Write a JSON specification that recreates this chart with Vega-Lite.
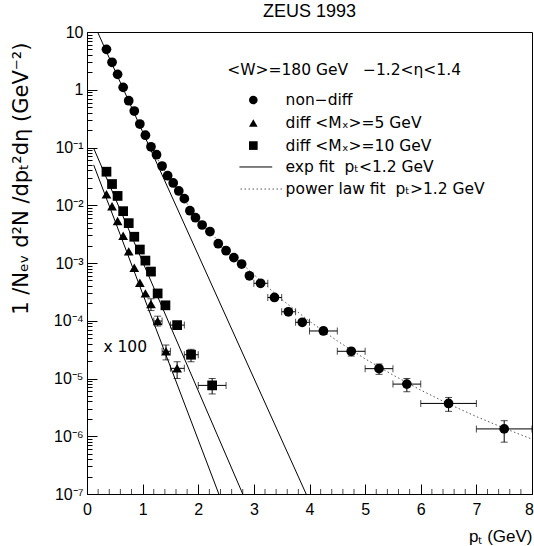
{
  "$schema": "https://vega.github.io/schema/vega-lite/v6.json",
  "width": 445,
  "height": 462,
  "autosize": "none",
  "padding": {"left": 87, "top": 32, "right": 2, "bottom": 52},
  "config": {
    "view": {"stroke": "black", "strokeWidth": 1},
    "font": "Liberation Sans",
    "text": {"font": "Liberation Sans", "color": "black"}
  },
  "title": {"text": "ZEUS 1993", "fontSize": 18, "fontWeight": "normal", "font": "Liberation Sans", "color": "black", "anchor": "middle", "offset": 3},
  "datasets": {
    "pts": [
      {"s": "nd", "x": 0.35, "y": 5.01},
      {"s": "nd", "x": 0.45, "y": 2.99},
      {"s": "nd", "x": 0.55, "y": 1.85},
      {"s": "nd", "x": 0.65, "y": 1.10},
      {"s": "nd", "x": 0.75, "y": 0.646},
      {"s": "nd", "x": 0.85, "y": 0.428},
      {"s": "nd", "x": 0.95, "y": 0.255},
      {"s": "nd", "x": 1.05, "y": 0.163},
      {"s": "nd", "x": 1.15, "y": 0.103},
      {"s": "nd", "x": 1.25, "y": 0.075},
      {"s": "nd", "x": 1.35, "y": 0.0478},
      {"s": "nd", "x": 1.45, "y": 0.0325},
      {"s": "nd", "x": 1.55, "y": 0.0243},
      {"s": "nd", "x": 1.65, "y": 0.0177},
      {"s": "nd", "x": 1.75, "y": 0.0130},
      {"s": "nd", "x": 1.85, "y": 0.00805},
      {"s": "nd", "x": 1.95, "y": 0.00608},
      {"s": "nd", "x": 2.07, "y": 0.00455},
      {"s": "nd", "x": 2.21, "y": 0.00351},
      {"s": "nd", "x": 2.36, "y": 0.00216},
      {"s": "nd", "x": 2.5, "y": 0.00163},
      {"s": "nd", "x": 2.64, "y": 0.00124},
      {"s": "nd", "x": 2.78, "y": 0.00096},
      {"s": "nd", "x": 2.92, "y": 0.00060},
      {"s": "nd", "x": 3.12, "y": 0.000445, "xlo": 3.0, "xhi": 3.25},
      {"s": "nd", "x": 3.37, "y": 0.000253, "xlo": 3.25, "xhi": 3.5},
      {"s": "nd", "x": 3.62, "y": 0.000143, "xlo": 3.5, "xhi": 3.75},
      {"s": "nd", "x": 3.87, "y": 0.000094, "xlo": 3.75, "xhi": 4.0},
      {"s": "nd", "x": 4.25, "y": 0.0000665, "xlo": 4.0, "xhi": 4.5, "ylo": 0.000058, "yhi": 0.000076},
      {"s": "nd", "x": 4.75, "y": 0.0000296, "xlo": 4.5, "xhi": 5.0, "ylo": 0.0000245, "yhi": 0.000033},
      {"s": "nd", "x": 5.25, "y": 0.0000148, "xlo": 5.0, "xhi": 5.5, "ylo": 0.0000118, "yhi": 0.0000178},
      {"s": "nd", "x": 5.75, "y": 0.0000080, "xlo": 5.5, "xhi": 6.0, "ylo": 0.0000059, "yhi": 0.0000100},
      {"s": "nd", "x": 6.5, "y": 0.0000037, "xlo": 6.0, "xhi": 7.0, "ylo": 0.0000027, "yhi": 0.0000047},
      {"s": "nd", "x": 7.5, "y": 0.00000134, "xlo": 7.0, "xhi": 8.0, "ylo": 0.00000079, "yhi": 0.00000186},
      {"s": "d5", "x": 0.35, "y": 0.0155},
      {"s": "d5", "x": 0.45, "y": 0.0096},
      {"s": "d5", "x": 0.55, "y": 0.00533},
      {"s": "d5", "x": 0.65, "y": 0.00297},
      {"s": "d5", "x": 0.75, "y": 0.00159},
      {"s": "d5", "x": 0.85, "y": 0.00083},
      {"s": "d5", "x": 0.95, "y": 0.000456},
      {"s": "d5", "x": 1.05, "y": 0.000298},
      {"s": "d5", "x": 1.15, "y": 0.000195, "ylo": 0.00015, "yhi": 0.00024},
      {"s": "d5", "x": 1.27, "y": 0.000099, "xlo": 1.2, "xhi": 1.35, "ylo": 0.000081, "yhi": 0.00012},
      {"s": "d5", "x": 1.42, "y": 0.0000296, "xlo": 1.35, "xhi": 1.5, "ylo": 0.000021, "yhi": 0.000038},
      {"s": "d5", "x": 1.62, "y": 0.000015, "xlo": 1.5, "xhi": 1.75, "ylo": 0.00001, "yhi": 0.0000195},
      {"s": "d10", "x": 0.35, "y": 0.0381},
      {"s": "d10", "x": 0.45, "y": 0.0233},
      {"s": "d10", "x": 0.55, "y": 0.0145},
      {"s": "d10", "x": 0.65, "y": 0.0079},
      {"s": "d10", "x": 0.75, "y": 0.0049},
      {"s": "d10", "x": 0.85, "y": 0.00285},
      {"s": "d10", "x": 0.95, "y": 0.00171},
      {"s": "d10", "x": 1.05, "y": 0.0011},
      {"s": "d10", "x": 1.15, "y": 0.00071},
      {"s": "d10", "x": 1.27, "y": 0.000297},
      {"s": "d10", "x": 1.41, "y": 0.000185},
      {"s": "d10", "x": 1.62, "y": 0.000084, "xlo": 1.5, "xhi": 1.75},
      {"s": "d10", "x": 1.87, "y": 0.0000258, "xlo": 1.75, "xhi": 2.0, "ylo": 0.0000195, "yhi": 0.000032},
      {"s": "d10", "x": 2.25, "y": 0.0000076, "xlo": 2.0, "xhi": 2.5, "ylo": 0.0000054, "yhi": 0.00001}
    ],
    "fits": [
      {"f": "nd_exp", "x": 0.19, "y": 10},
      {"f": "nd_exp", "x": 3.94, "y": 1e-7},
      {"f": "d10_exp", "x": 0.12, "y": 0.097},
      {"f": "d10_exp", "x": 2.8, "y": 1e-7},
      {"f": "d5_exp", "x": 0.12, "y": 0.05},
      {"f": "d5_exp", "x": 2.37, "y": 1e-7}
    ],
    "pow": [
      {"x": 1.2, "y": 0.0794},
      {"x": 1.5, "y": 0.0275},
      {"x": 2.0, "y": 0.00562},
      {"x": 2.5, "y": 0.00174},
      {"x": 3.0, "y": 0.00063},
      {"x": 3.5, "y": 0.000234},
      {"x": 4.0, "y": 0.000098},
      {"x": 4.5, "y": 0.0000447},
      {"x": 5.0, "y": 0.0000219},
      {"x": 5.5, "y": 0.0000115},
      {"x": 6.0, "y": 0.0000063},
      {"x": 6.5, "y": 0.00000363},
      {"x": 7.0, "y": 0.00000219},
      {"x": 7.5, "y": 0.00000138},
      {"x": 8.0, "y": 0.00000089}
    ],
    "xminor": [
      {"x": 0.2}, {"x": 0.4}, {"x": 0.6}, {"x": 0.8},
      {"x": 1.2}, {"x": 1.4}, {"x": 1.6}, {"x": 1.8},
      {"x": 2.2}, {"x": 2.4}, {"x": 2.6}, {"x": 2.8},
      {"x": 3.2}, {"x": 3.4}, {"x": 3.6}, {"x": 3.8},
      {"x": 4.2}, {"x": 4.4}, {"x": 4.6}, {"x": 4.8},
      {"x": 5.2}, {"x": 5.4}, {"x": 5.6}, {"x": 5.8},
      {"x": 6.2}, {"x": 6.4}, {"x": 6.6}, {"x": 6.8},
      {"x": 7.2}, {"x": 7.4}, {"x": 7.6}, {"x": 7.8}
    ],
    "legsym": [
      {"s": "nd", "x": 2.99, "y": 0.665},
      {"s": "d5", "x": 2.99, "y": 0.265},
      {"s": "d10", "x": 2.99, "y": 0.108}
    ],
    "leglines": [
      {"f": "solid", "x": 2.74, "x2": 3.33, "y": 0.046},
      {"f": "dot", "x": 2.76, "x2": 3.51, "y": 0.0191}
    ],
    "legtext": [
      {"x": 3.57, "y": 0.665, "t": "non−diff"},
      {"x": 3.57, "y": 0.265, "t": "diff <Mₓ>=5 GeV"},
      {"x": 3.57, "y": 0.108, "t": "diff <Mₓ>=10 GeV"},
      {"x": 3.57, "y": 0.046, "t": "exp fit\u00a0\u00a0pₜ<1.2 GeV"},
      {"x": 3.57, "y": 0.0191, "t": "power law fit\u00a0\u00a0pₜ>1.2 GeV"},
      {"x": 2.52, "y": 2.2, "t": "<W>=180 GeV\u00a0\u00a0\u00a0−1.2<η<1.4"},
      {"x": 0.295, "y": 0.000035, "t": "x 100"}
    ]
  },
  "layer": [
    {
      "data": {"name": "fits"},
      "mark": {"type": "line", "color": "black", "strokeWidth": 1, "clip": true},
      "encoding": {
        "x": {
          "field": "x", "type": "quantitative",
          "scale": {"domain": [0, 8], "nice": false, "zero": false},
          "axis": {
            "values": [0, 1, 2, 3, 4, 5, 6, 7, 8],
            "tickSize": -10,
            "format": "d",
            "labelFlush": false,
            "labelOverlap": false,
            "labelOffset": {"condition": {"test": "datum.value == 8", "value": -3}, "value": 0},
            "labelFontSize": 16,
            "labelColor": "black",
            "labelPadding": 17,
            "domainColor": "black",
            "tickColor": "black",
            "grid": false,
            "title": "pₜ (GeV)",
            "titleFontSize": 17,
            "titleFontWeight": "normal",
            "titleColor": "black",
            "titleAnchor": "end",
            "titlePadding": 11
          }
        },
        "y": {
          "field": "y", "type": "quantitative",
          "scale": {"type": "log", "domain": [1e-7, 10], "nice": false},
          "axis": {
            "values": [1e-7,2e-7,3e-7,4e-7,5e-7,6e-7,7e-7,8e-7,9e-7,1e-6,2e-6,3e-6,4e-6,5e-6,6e-6,7e-6,8e-6,9e-6,1e-5,2e-5,3e-5,4e-5,5e-5,6e-5,7e-5,8e-5,9e-5,1e-4,2e-4,3e-4,4e-4,5e-4,6e-4,7e-4,8e-4,9e-4,0.001,0.002,0.003,0.004,0.005,0.006,0.007,0.008,0.009,0.01,0.02,0.03,0.04,0.05,0.06,0.07,0.08,0.09,0.1,0.2,0.3,0.4,0.5,0.6,0.7,0.8,0.9,1,2,3,4,5,6,7,8,9,10],
            "tickSize": {"condition": {"test": "abs(log(datum.value)/LN10 - round(log(datum.value)/LN10)) < 0.01", "value": -10}, "value": -5},
            "labelExpr": "abs(log(datum.value)/LN10 - round(log(datum.value)/LN10)) > 0.01 ? '' : datum.value > 5 ? '10' : datum.value > 0.5 ? '1' : '10' + ['', '⁻¹', '⁻²', '⁻³', '⁻⁴', '⁻⁵', '⁻⁶', '⁻⁷'][round(-log(datum.value)/LN10)]",
            "labelOverlap": false,
            "labelFlush": false,
            "labelFontSize": 16,
            "labelColor": "black",
            "labelPadding": 14,
            "domainColor": "black",
            "tickColor": "black",
            "grid": false,
            "title": "1 /Nₑᵥ d²N /dpₜ²dη (GeV⁻²)",
            "titleFont": "DejaVu Sans",
            "titleFontSize": 21,
            "titleFontWeight": "normal",
            "titleColor": "black",
            "titleAlign": "right",
            "titleY": 10,
            "titlePadding": 22
          }
        },
        "detail": {"field": "f"}
      }
    },
    {
      "data": {"name": "xminor"},
      "mark": {"type": "tick", "orient": "vertical", "color": "black", "size": 5, "thickness": 1, "yOffset": -2.5},
      "encoding": {
        "x": {"field": "x", "type": "quantitative"},
        "y": {"datum": 1e-7, "type": "quantitative"}
      }
    },
    {
      "data": {"name": "pow"},
      "mark": {"type": "line", "color": "#555555", "strokeWidth": 1, "strokeDash": [1.5, 2.5], "clip": true},
      "encoding": {
        "x": {"field": "x", "type": "quantitative"},
        "y": {"field": "y", "type": "quantitative"}
      }
    },
    {
      "data": {"name": "pts"},
      "transform": [{"filter": "isValid(datum.xlo)"}],
      "mark": {"type": "rule", "color": "black", "strokeWidth": 1},
      "encoding": {
        "x": {"field": "xlo", "type": "quantitative"},
        "x2": {"field": "xhi"},
        "y": {"field": "y", "type": "quantitative"}
      }
    },
    {
      "data": {"name": "pts"},
      "transform": [{"filter": "isValid(datum.ylo)"}],
      "mark": {"type": "rule", "color": "black", "strokeWidth": 1},
      "encoding": {
        "x": {"field": "x", "type": "quantitative"},
        "y": {"field": "ylo", "type": "quantitative"},
        "y2": {"field": "yhi"}
      }
    },
    {
      "data": {"name": "pts"},
      "transform": [{"filter": "isValid(datum.xlo)"}],
      "mark": {"type": "tick", "orient": "vertical", "color": "black", "size": 7, "thickness": 1},
      "encoding": {
        "x": {"field": "xlo", "type": "quantitative"},
        "y": {"field": "y", "type": "quantitative"}
      }
    },
    {
      "data": {"name": "pts"},
      "transform": [{"filter": "isValid(datum.xhi)"}],
      "mark": {"type": "tick", "orient": "vertical", "color": "black", "size": 7, "thickness": 1},
      "encoding": {
        "x": {"field": "xhi", "type": "quantitative"},
        "y": {"field": "y", "type": "quantitative"}
      }
    },
    {
      "data": {"name": "pts"},
      "transform": [{"filter": "isValid(datum.ylo)"}],
      "mark": {"type": "tick", "orient": "horizontal", "color": "black", "size": 7, "thickness": 1},
      "encoding": {
        "x": {"field": "x", "type": "quantitative"},
        "y": {"field": "ylo", "type": "quantitative"}
      }
    },
    {
      "data": {"name": "pts"},
      "transform": [{"filter": "isValid(datum.yhi)"}],
      "mark": {"type": "tick", "orient": "horizontal", "color": "black", "size": 7, "thickness": 1},
      "encoding": {
        "x": {"field": "x", "type": "quantitative"},
        "y": {"field": "yhi", "type": "quantitative"}
      }
    },
    {
      "data": {"name": "pts"},
      "mark": {"type": "point", "filled": true, "color": "black", "opacity": 1, "size": 95},
      "encoding": {
        "x": {"field": "x", "type": "quantitative"},
        "y": {"field": "y", "type": "quantitative"},
        "shape": {"field": "s", "type": "nominal", "scale": {"domain": ["nd", "d5", "d10"], "range": ["circle", "triangle-up", "square"]}, "legend": null}
      }
    },
    {
      "data": {"name": "legsym"},
      "mark": {"type": "point", "filled": true, "color": "black", "opacity": 1, "size": 75},
      "encoding": {
        "x": {"field": "x", "type": "quantitative"},
        "y": {"field": "y", "type": "quantitative"},
        "shape": {"field": "s", "type": "nominal", "legend": null}
      }
    },
    {
      "data": {"name": "leglines"},
      "transform": [{"filter": "datum.f == 'solid'"}],
      "mark": {"type": "rule", "color": "black", "strokeWidth": 1},
      "encoding": {
        "x": {"field": "x", "type": "quantitative"},
        "x2": {"field": "x2"},
        "y": {"field": "y", "type": "quantitative"}
      }
    },
    {
      "data": {"name": "leglines"},
      "transform": [{"filter": "datum.f == 'dot'"}],
      "mark": {"type": "rule", "color": "#555555", "strokeWidth": 1, "strokeDash": [1.5, 2.5]},
      "encoding": {
        "x": {"field": "x", "type": "quantitative"},
        "x2": {"field": "x2"},
        "y": {"field": "y", "type": "quantitative"}
      }
    },
    {
      "data": {"name": "legtext"},
      "mark": {"type": "text", "align": "left", "baseline": "middle", "fontSize": 15.5, "font": "DejaVu Sans", "color": "black"},
      "encoding": {
        "x": {"field": "x", "type": "quantitative"},
        "y": {"field": "y", "type": "quantitative"},
        "text": {"field": "t"}
      }
    }
  ]
}
